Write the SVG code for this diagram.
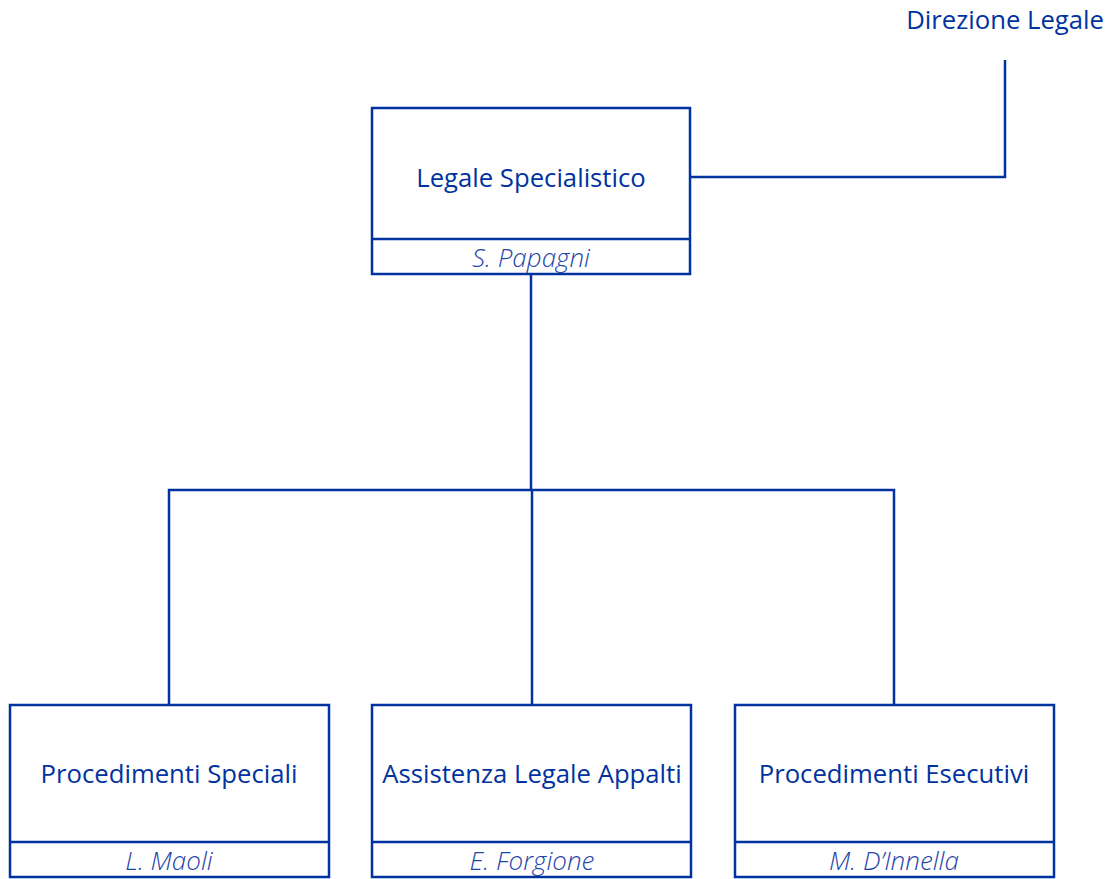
<svg xmlns="http://www.w3.org/2000/svg" width="1115" height="879" viewBox="0 0 1115 879">
<style>
.box{fill:#fff;stroke:#0033a0;stroke-width:2.5}
.ln{fill:none;stroke:#0033a0;stroke-width:2.5}
.t{font-family:"Open Sans",sans-serif;font-size:25.7px;fill:#0033a0;text-anchor:middle}
.n{font-family:"Open Sans",sans-serif;font-size:26px;font-style:italic;font-weight:300;fill:#1f46a8;text-anchor:middle}
</style>
<rect width="1115" height="879" fill="#fff"/>
<g id="connectors">
<polyline class="ln" points="691,177 1005,177 1005,60"/>
<polyline class="ln" points="531,274 531,490"/>
<polyline class="ln" points="169,705 169,490 894,490 894,705"/>
<polyline class="ln" points="532,490 532,705"/>
</g>
<g id="direzione">
<text class="t" x="1104" y="29" style="text-anchor:end">Direzione Legale</text>
</g>
<g id="legale-specialistico">
<rect class="box" x="372" y="108" width="318" height="166"/>
<line class="ln" x1="372" y1="239" x2="690" y2="239"/>
<text class="t" x="531" y="187">Legale Specialistico</text>
<text class="n" x="531" y="267">S. Papagni</text>
</g>
<g id="procedimenti-speciali">
<rect class="box" x="10" y="705" width="319" height="172"/>
<line class="ln" x1="10" y1="842" x2="329" y2="842"/>
<text class="t" x="169" y="783">Procedimenti Speciali</text>
<text class="n" x="169" y="870">L. Maoli</text>
</g>
<g id="assistenza-legale-appalti">
<rect class="box" x="372" y="705" width="319" height="172"/>
<line class="ln" x1="372" y1="842" x2="691" y2="842"/>
<text class="t" x="532" y="783">Assistenza Legale Appalti</text>
<text class="n" x="532" y="870">E. Forgione</text>
</g>
<g id="procedimenti-esecutivi">
<rect class="box" x="735" y="705" width="319" height="172"/>
<line class="ln" x1="735" y1="842" x2="1054" y2="842"/>
<text class="t" x="894" y="783">Procedimenti Esecutivi</text>
<text class="n" x="894" y="870">M. D’Innella</text>
</g>
</svg>
